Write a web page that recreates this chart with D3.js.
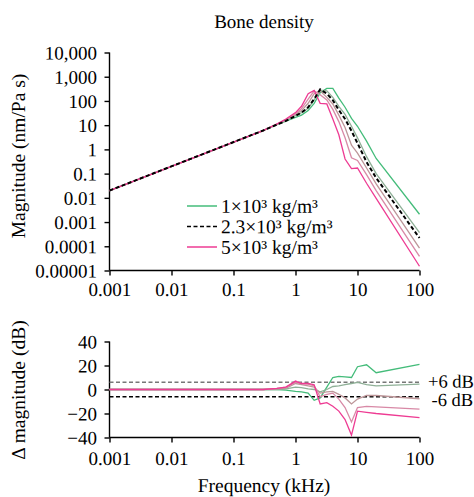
<!DOCTYPE html>
<html><head><meta charset="utf-8">
<script src="https://cdn.jsdelivr.net/npm/d3@7"></script>
<style>
body{margin:0;background:#fff;}
</style></head>
<body><svg id="c" width="474" height="497"></svg>
<script>
// Frequencies (kHz)
const freq = [0.001, 0.3, 0.5, 0.7, 1, 1.25, 1.6, 2, 2.5, 3.2, 4, 5, 6.3, 8, 10, 14, 20, 100];
// Magnitude (nm/Pa s) per bone density
const mag1000 = [0.02, 6, 10.5, 14.5, 21, 26, 40, 80, 220, 330, 330, 130, 55, 19, 9, 2.2, 0.42, 0.0021];
const mag1500 = [0.02, 6, 10.5, 15, 25, 33, 50, 110, 280, 260, 140, 60, 28, 9, 3, 0.5, 0.1, 0.00037];
const mag2300 = [0.02, 6, 10.5, 15, 24, 33, 55, 120, 300, 200, 107, 42, 18, 5.8, 1.8, 0.3, 0.066, 0.00022];
const mag3000 = [0.02, 6, 11, 16, 28, 40, 80, 200, 260, 140, 75, 26, 8, 1.5, 0.7, 0.17, 0.038, 0.000084];
const mag4000 = [0.02, 6, 11, 17, 30, 48, 120, 260, 180, 110, 45, 14, 3, 0.45, 0.35, 0.09, 0.02, 0.000038];
const mag5000 = [0.02, 6, 11, 18, 33, 60, 200, 270, 80, 75, 18, 4, 0.4, 0.16, 0.17, 0.04, 0.0095, 0.000015];
// Δ magnitude (dB) relative to 2.3×10³ kg/m³
const d1000 = [0, 0, 0, -0.5, -1.5, -2, -3, -9, -7, 2, 10, 11, 10.5, 10, 19, 20.6, 14, 21];
const d1500 = [0, 0, 0, 0.5, 2, 1.5, 0.5, 0, -2, 0, 2.5, 3, 4, 5, 6, 4, 3, 4.5];
const d3000 = [0, 0, 0.5, 1, 5, 4, 3, 2, -3, -2, -1.5, -4, -7, -12, -8, -5, -5, -7.7];
const d4000 = [0, 0, 1, 2, 6, 5, 4.5, 3, -6, -4, -3, -8, -15, -27, -15, -14, -14.5, -16.3];
const d5000 = [0, 0, 1, 2, 7, 5, 5, 4, -12, -11, -14, -18, -25, -38, -18, -19, -20, -23.5];

const xTicks = [0.001, 0.01, 0.1, 1, 10, 100];
const xTickLabels = ["0.001", "0.01", "0.1", "1", "10", "100"];
const yTicksTop = [10000, 1000, 100, 10, 1, 0.1, 0.01, 0.001, 0.0001, 0.00001];
const yTickLabelsTop = ["10,000", "1,000", "100", "10", "1", "0.1", "0.01", "0.001", "0.0001", "0.00001"];
const yTicksBot = [40, 20, 0, -20, -40];
const thresholds = [6, -6];
const thresholdLabels = ["+6 dB", "-6 dB"];
const legendLabels = ["1×10³ kg/m³", "2.3×10³ kg/m³", "5×10³ kg/m³"];

const FONT = "'Liberation Serif', 'Times New Roman', Tinos, serif";
const ROT = " rotate(0.05)";
const svg = d3.select("#c");
const x = d3.scaleLog().domain([0.001, 100]).range([109.5, 419.5]);
const yTop = d3.scaleLog().domain([0.00001, 10000]).range([270.5, 52.5]);
const yBot = d3.scaleLinear().domain([-40, 40]).range([437.5, 341.5]);

const styles = [
  {top: mag1000, bot: d1000, color: "#44bc7a", w: 1.3, dash: null},
  {top: mag1500, bot: d1500, color: "#8fb097", w: 1.3, dash: null},
  {top: mag3000, bot: d3000, color: "#bd9699", w: 1.3, dash: null},
  {top: mag4000, bot: d4000, color: "#d889a6", w: 1.3, dash: null},
  {top: mag5000, bot: d5000, color: "#ee3b93", w: 1.3, dash: null},
  {top: mag2300, bot: null, color: "#000", w: 2, dash: "4,2.5"}
];

const lineTop = d3.line().x((d,i)=>x(freq[i])).y(d=>yTop(d));
const lineBot = d3.line().x((d,i)=>x(freq[i])).y(d=>yBot(d));

function txt(sel, size){ return sel.style("font-family", FONT).style("font-size", size + "px").attr("fill","#000"); }
// place text with its own translate, plus a tiny rotation for outline rendering
function place(px, py, extra){ return "translate(" + px + "," + py + ")" + (extra || "") + ROT; }

// Title
txt(svg.append("text").attr("transform", place(264, 28)).attr("text-anchor","middle"), 19).text("Bone density");

// Axes
const gxT = svg.append("g").attr("transform","translate(0,270.5)")
  .call(d3.axisBottom(x).tickValues(xTicks).tickFormat((d,i)=>xTickLabels[i]).tickSize(5).tickPadding(7));
const gyT = svg.append("g").attr("transform","translate(109.5,0)")
  .call(d3.axisLeft(yTop).tickValues(yTicksTop).tickFormat((d,i)=>yTickLabelsTop[i]).tickSize(5).tickPadding(7.5));
const gxB = svg.append("g").attr("transform","translate(0,437.5)")
  .call(d3.axisBottom(x).tickValues(xTicks).tickFormat((d,i)=>xTickLabels[i]).tickSize(5).tickPadding(9));
const gyB = svg.append("g").attr("transform","translate(109.5,0)")
  .call(d3.axisLeft(yBot).tickValues(yTicksBot).tickSize(5).tickPadding(7.5));
[gxT,gyT,gxB,gyB].forEach(g=>{
  g.attr("font-family", null).attr("font-size", null);
  g.selectAll(".domain").attr("stroke","#000").attr("stroke-width",1.4);
  g.selectAll(".tick line").attr("stroke","#000").attr("stroke-width",1.4);
  txt(g.selectAll("text"), 19).attr("transform", "rotate(0.05)");
});
[gyT,gyB].forEach(g=>g.selectAll("text").attr("dy","0.34em"));
gyT.select(".domain").attr("d","M0,52.5V270.5");
gyB.select(".domain").attr("d","M0,341.5V437.5");
gxT.select(".domain").attr("d","M109.5,0H419.5");
gxB.select(".domain").attr("d","M109.5,0H419.5");

// Top lines
svg.append("g").selectAll("path").data(styles).join("path")
  .attr("d", s=>lineTop(s.top)).attr("fill","none")
  .attr("stroke", s=>s.color).attr("stroke-width", s=>s.w)
  .attr("stroke-dasharray", s=>s.dash);

// Bottom threshold lines
svg.append("g").selectAll("line").data(thresholds).join("line")
  .attr("x1", x(0.001)).attr("x2", x(100))
  .attr("y1", d=>yBot(d)).attr("y2", d=>yBot(d))
  .attr("stroke", (d,i)=> i===0 ? "#777" : "#000").attr("stroke-width", 1.5)
  .attr("stroke-dasharray","4,2.5");
txt(svg.append("g").selectAll("text").data(thresholds).join("text")
  .attr("transform", (d,i)=> place(i===0 ? 428 : 431.5, yBot(d) + (d>0 ? -1 : 3)))
  .attr("dy","0.34em"), 18.5).text((d,i)=>thresholdLabels[i]);

// Bottom lines
svg.append("g").selectAll("path").data(styles.filter(s=>s.bot)).join("path")
  .attr("d", s=>lineBot(s.bot)).attr("fill","none")
  .attr("stroke", s=>s.color).attr("stroke-width", s=>s.w);

// Legend
const legItems = [styles[0], styles[5], styles[4]];
const leg = svg.append("g");
legItems.forEach((s,i)=>{
  const yy = 206 + i*20.5;
  leg.append("line").attr("x1",187).attr("x2",217).attr("y1",yy).attr("y2",yy)
    .attr("stroke",s.color).attr("stroke-width", 1.5).attr("stroke-dasharray", s.dash ? "4,2.5" : null);
  txt(leg.append("text").attr("transform", place(221, yy)).attr("dy","0.34em"), 19.5).text(legendLabels[i]);
});

// Axis titles
txt(svg.append("text").attr("transform","translate(25,156) rotate(-90)").attr("text-anchor","middle"), 19.5).text("Magnitude (nm/Pa s)");
txt(svg.append("text").attr("transform","translate(25,390) rotate(-90)").attr("text-anchor","middle"), 19.5).text("Δ magnitude (dB)");
txt(svg.append("text").attr("transform", place(264, 492)).attr("text-anchor","middle"), 19.5).text("Frequency (kHz)");
</script></body></html>
